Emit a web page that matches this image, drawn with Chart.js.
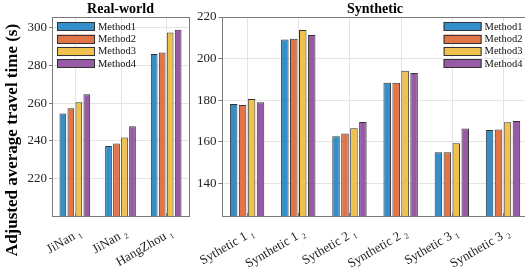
<!DOCTYPE html>
<html>
<head>
<meta charset="utf-8">
<script src="https://cdn.jsdelivr.net/npm/chart.js@4.4.0/dist/chart.umd.min.js"></script>
<style>
  html, body { margin:0; padding:0; background:#fff; width:525px; height:267px; overflow:hidden; }
  #wrap { position:relative; width:525px; height:267px; overflow:hidden; }
  #c1 { position:absolute; left:0; top:0; }
  #c2 { position:absolute; left:195px; top:0; }
</style>
</head>
<body>
<div id="wrap">
  <canvas id="c1" width="195" height="267"></canvas>
  <canvas id="c2" width="350" height="267"></canvas>
</div>
<script>
// ---- data ----
const methodNames = ['Method1', 'Method2', 'Method3', 'Method4'];

const realCategories = ['JiNan \u2081', 'JiNan \u2082', 'HangZhou \u2081'];
const realMethod1 = [254.5, 237.3, 286.0];
const realMethod2 = [257.3, 238.6, 286.8];
const realMethod3 = [260.5, 241.8, 297.4];
const realMethod4 = [264.7, 247.8, 298.8];
const realTicks = [220, 240, 260, 280, 300];

const synCategories = ['Sythetic 1 \u2081', 'Synthetic 1 \u2082', 'Sythetic 2 \u2081', 'Synthetic 2 \u2082', 'Sythetic 3 \u2081', 'Synthetic 3 \u2082'];
const synMethod1 = [178.1, 209.2, 162.6, 188.4, 154.9, 165.6];
const synMethod2 = [177.6, 209.5, 163.9, 188.4, 154.9, 165.8];
const synMethod3 = [180.5, 213.7, 166.4, 194.1, 159.2, 169.3];
const synMethod4 = [179.0, 211.3, 169.5, 193.1, 166.3, 169.9];
const synTicks = [140, 160, 180, 200, 220];

// ---- styles ----
const colors = ['#338ECA', '#E17547', '#F1C14D', '#9859A5'];
const edge = '#333333';
const gridCol = '#e4e4e4';
const frameCol = '#7a7a7a';
const serif = '"Liberation Serif", "Times New Roman", serif';

// vertical grid lines at category centres (from the library's x scale)
const xGridPlugin = {
  id: 'xgrid',
  beforeDatasetsDraw(chart) {
    const ctx = chart.ctx, a = chart.chartArea, xs = chart.scales.x;
    ctx.save();
    ctx.strokeStyle = gridCol;
    ctx.lineWidth = 1;
    chart.data.labels.forEach((_, i) => {
      const x = Math.round(xs.getPixelForValue(i)) + 0.5;
      ctx.beginPath();
      ctx.moveTo(x, a.top);
      ctx.lineTo(x, a.bottom);
      ctx.stroke();
    });
    ctx.restore();
  }
};

const framePlugin = {
  id: 'frame',
  afterDraw(chart, args, opts) {
    const ctx = chart.ctx, a = chart.chartArea, xs = chart.scales.x;
    ctx.save();
    ctx.strokeStyle = frameCol;
    ctx.lineWidth = 1;
    ctx.strokeRect(Math.round(a.left) + 0.5, Math.round(a.top) + 0.5,
                   Math.round(a.right - a.left), Math.round(a.bottom - a.top));
    chart.data.labels.forEach((_, i) => {
      const x = Math.round(xs.getPixelForValue(i)) + 0.5;
      ctx.beginPath();
      ctx.moveTo(x, Math.round(a.bottom));
      ctx.lineTo(x, Math.round(a.bottom) - 3);
      ctx.stroke();
    });
    ctx.fillStyle = '#000';
    ctx.font = 'bold 14px ' + serif;
    ctx.textAlign = 'center';
    ctx.textBaseline = 'middle';
    ctx.fillText(opts.title, opts.titleX != null ? opts.titleX : (a.left + a.right) / 2, 9);
    ctx.font = '10.5px ' + serif;
    ctx.textAlign = 'left';
    const x0 = opts.legendRight ? a.right - opts.legendRight : a.left + opts.legendLeft;
    chart.data.datasets.forEach((ds, i) => {
      const cy = a.top + 9.5 + i * 12.3;
      ctx.fillStyle = ds.backgroundColor;
      ctx.fillRect(x0, cy - 4.2, 38, 8.4);
      ctx.strokeStyle = edge;
      ctx.lineWidth = 1;
      ctx.strokeRect(x0 + 0.5, Math.round(cy - 4.2) + 0.5, 37, 8);
      ctx.fillStyle = '#111';
      ctx.fillText(ds.label, x0 + 41, cy + 0.5);
    });
    if (opts.yTitle) {
      ctx.save();
      ctx.translate(13, 140);
      ctx.rotate(-Math.PI / 2);
      ctx.font = 'bold 17px ' + serif;
      ctx.textAlign = 'center';
      ctx.textBaseline = 'middle';
      ctx.fillStyle = '#000';
      ctx.fillText(opts.yTitle, 0, 0);
      ctx.restore();
    }
    ctx.restore();
  }
};

function makeChart(id, cats, series, ticks, ymin, ymax, yWidth, padRight, frameOpts) {
  return new Chart(document.getElementById(id), {
    type: 'bar',
    data: {
      labels: cats,
      datasets: series.map((vals, i) => ({
        label: methodNames[i],
        data: vals,
        backgroundColor: colors[i],
        borderColor: edge,
        borderWidth: 1,
        barPercentage: 0.84,
        categoryPercentage: 0.7
      }))
    },
    options: {
      responsive: false,
      animation: false,
      layout: { padding: { top: 17, left: 0, right: padRight, bottom: 0 } },
      plugins: { legend: { display: false }, title: { display: false }, tooltip: { enabled: false }, frame: frameOpts },
      scales: {
        x: {
          offset: true,
          grid: { display: false, drawTicks: false },
          border: { display: false },
          ticks: {
            minRotation: 30, maxRotation: 30, autoSkip: false,
            color: '#222', font: { family: serif, size: 13 }, padding: 9, labelOffset: 6
          },
          afterFit(scale) { scale.height = 51; scale.paddingLeft = 0; scale.paddingRight = 0; }
        },
        y: {
          min: ymin, max: ymax,
          grid: { color: gridCol, drawTicks: true, tickLength: 3, tickColor: frameCol },
          border: { display: false },
          afterBuildTicks(scale) { scale.ticks = ticks.map(v => ({ value: v })); },
          ticks: { includeBounds: false, color: '#222', font: { family: serif, size: 13 }, padding: 2 },
          afterFit(scale) { scale.width = yWidth; }
        }
      }
    },
    plugins: [xGridPlugin, framePlugin]
  });
}

makeChart('c1', realCategories, [realMethod1, realMethod2, realMethod3, realMethod4],
  realTicks, 200.3, 305.6, 52, 6,
  { title: 'Real-world', legendLeft: 5, yTitle: 'Adjusted average travel time (s)' });

makeChart('c2', synCategories, [synMethod1, synMethod2, synMethod3, synMethod4],
  synTicks, 124.2, 220, 26.5, 16.4,
  { title: 'Synthetic', titleX: 180, legendRight: 85 });
</script>
</body>
</html>
